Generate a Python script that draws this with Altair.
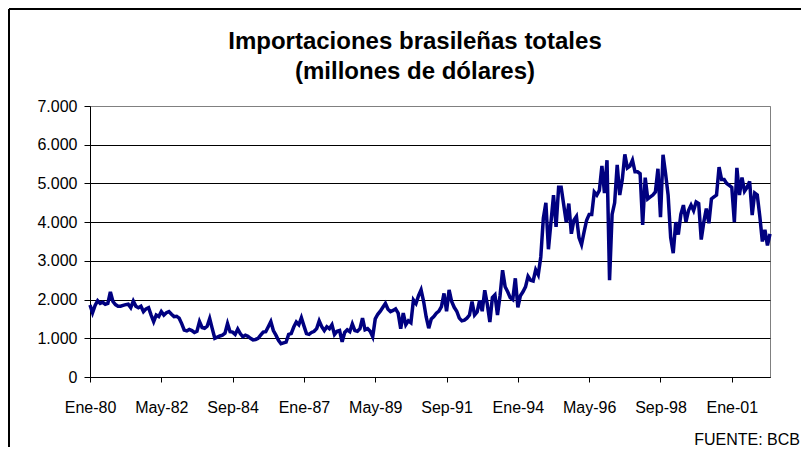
import altair as alt
import pandas as pd

# Monthly Brazilian imports (million US$), Jan 1980 - Apr 2002
IMP_1980 = [1860, 1660, 1850, 1970, 1900, 1930, 1880, 1900, 2200, 1950, 1870, 1830]
IMP_1981 = [1830, 1850, 1870, 1880, 1790, 1960, 1830, 1790, 1830, 1690, 1760, 1790]
IMP_1982 = [1600, 1430, 1600, 1560, 1690, 1600, 1660, 1690, 1620, 1560, 1570, 1520]
IMP_1983 = [1380, 1210, 1190, 1230, 1200, 1150, 1180, 1430, 1280, 1260, 1310, 1510]
IMP_1984 = [1250, 1000, 1030, 1060, 1080, 1130, 1380, 1170, 1160, 1100, 1240, 1120]
IMP_1985 = [1040, 1080, 1050, 1000, 960, 970, 1000, 1080, 1160, 1170, 1300, 1430]
IMP_1986 = [1200, 1080, 950, 860, 880, 900, 1100, 1120, 1290, 1420, 1350, 1530]
IMP_1987 = [1320, 1120, 1100, 1150, 1180, 1250, 1450, 1300, 1200, 1300, 1250, 1350]
IMP_1988 = [1100, 1180, 1200, 910, 1150, 1220, 1170, 1370, 1200, 1180, 1250, 1520]
IMP_1989 = [1220, 1250, 1180, 1040, 1500, 1620, 1700, 1800, 1900, 1750, 1690, 1720]
IMP_1990 = [1760, 1650, 1250, 1650, 1350, 1450, 1400, 1990, 1900, 2100, 2250, 1950]
IMP_1991 = [1550, 1260, 1500, 1560, 1650, 1700, 1820, 2160, 1700, 2250, 1950, 1800]
IMP_1992 = [1700, 1520, 1450, 1470, 1520, 1600, 1950, 1600, 1680, 1980, 1700, 2240]
IMP_1993 = [1880, 1420, 2050, 2120, 1600, 2100, 2760, 2330, 2200, 2050, 2000, 2550]
IMP_1994 = [1800, 2100, 2200, 2330, 2600, 2500, 2480, 2770, 2640, 3100, 4100, 4500]
IMP_1995 = [3300, 4000, 4700, 3880, 4900, 4900, 4450, 4000, 4480, 3700, 4050, 4150]
IMP_1996 = [3600, 3420, 3750, 4050, 4200, 4200, 4780, 4700, 4820, 5450, 4750, 5600]
IMP_1997 = [2500, 4200, 4500, 5480, 4700, 5100, 5750, 5400, 5450, 5600, 5300, 5300]
IMP_1998 = [5250, 3930, 5150, 4600, 4650, 4700, 4780, 5380, 4130, 5740, 5250, 4700]
IMP_1999 = [3600, 3200, 4000, 3680, 4200, 4440, 4010, 4300, 4440, 4300, 4520, 4480]
IMP_2000 = [3550, 4000, 4350, 3970, 4600, 4650, 4700, 5420, 5100, 5100, 5000, 4950]
IMP_2001 = [4900, 4000, 5400, 4700, 5150, 4800, 4900, 5050, 4180, 4750, 4700, 4150]
IMP_2002 = [3500, 3800, 3400, 3700]

SERIES = (IMP_1980 + IMP_1981 + IMP_1982 + IMP_1983 + IMP_1984 + IMP_1985 +
          IMP_1986 + IMP_1987 + IMP_1988 + IMP_1989 + IMP_1990 + IMP_1991 +
          IMP_1992 + IMP_1993 + IMP_1994 + IMP_1995 + IMP_1996 + IMP_1997 +
          IMP_1998 + IMP_1999 + IMP_2000 + IMP_2001 + IMP_2002)

TICK_POS = [0, 28, 56, 84, 112, 140, 168, 196, 224, 252]
TICK_LABELS = ["Ene-80", "May-82", "Sep-84", "Ene-87", "May-89",
               "Sep-91", "Ene-94", "May-96", "Sep-98", "Ene-01"]
Y_TICKS = [0, 1000, 2000, 3000, 4000, 5000, 6000, 7000]

TITLE_1 = "Importaciones brasileñas totales"
TITLE_2 = "(millones de dólares)"
SOURCE = "FUENTE: BCB"

FONT = "Liberation Sans"
W, H = 680, 271
PAD = {"left": 82, "top": 98, "right": 31, "bottom": 70}

df = pd.DataFrame({"mes": list(range(len(SERIES))), "valor": SERIES})

pos_js = "[" + ",".join(str(p) for p in TICK_POS) + "]"
lab_js = "[" + ",".join("'" + l + "'" for l in TICK_LABELS) + "]"
x_label_expr = f"{lab_js}[indexof({pos_js}, datum.value)]"
y_label_expr = "replace(format(datum.value, ',d'), ',', '.')"

line = alt.Chart(df).mark_line(color="#000080", strokeWidth=3.5).encode(
    x=alt.X("mes:Q",
            scale=alt.Scale(domain=[0, len(SERIES) - 1], nice=False, zero=False),
            axis=alt.Axis(values=TICK_POS, labelExpr=x_label_expr, title=None,
                          grid=False, tickSize=5, labelPadding=17,
                          domainColor="black", tickColor="black",
                          labelFont=FONT, labelFontSize=16, labelColor="black",
                          labelFlush=False)),
    y=alt.Y("valor:Q",
            scale=alt.Scale(domain=[0, 7000], nice=False),
            axis=alt.Axis(values=Y_TICKS, labelExpr=y_label_expr, title=None,
                          tickSize=6, labelPadding=7,
                          grid=True,
                          gridColor={"condition": {"test": "datum.value === 7000",
                                                   "value": "#808080"},
                                     "value": "black"},
                          gridWidth=1,
                          domainColor="black", tickColor="black",
                          labelFont=FONT, labelFontSize=16, labelColor="black")),
)

one = pd.DataFrame({"k": [0]})
frame_left = alt.Chart(one).mark_rule(color="black", strokeWidth=2).encode(
    x=alt.value(-PAD["left"] + 1), y=alt.value(-PAD["top"] + 1),
    y2=alt.value(H + PAD["bottom"] + 5))
frame_top = alt.Chart(one).mark_rule(color="black", strokeWidth=2).encode(
    x=alt.value(-PAD["left"] + 1), x2=alt.value(W + PAD["right"] + 5),
    y=alt.value(-PAD["top"] + 1))

title1 = alt.Chart(one).mark_text(
    align="center", baseline="alphabetic", font=FONT, fontSize=24,
    fontWeight="bold", color="black"
).encode(x=alt.value(325), y=alt.value(-57), text=alt.value(TITLE_1))
title2 = alt.Chart(one).mark_text(
    align="center", baseline="alphabetic", font=FONT, fontSize=24,
    fontWeight="bold", color="black"
).encode(x=alt.value(325), y=alt.value(-27), text=alt.value(TITLE_2))

source = alt.Chart(one).mark_text(
    align="right", baseline="alphabetic", font=FONT, fontSize=16, color="black"
).encode(x=alt.value(710), y=alt.value(339), text=alt.value(SOURCE))

chart = alt.layer(line, frame_left, frame_top, title1, title2, source).properties(
    width=W, height=H,
    padding=PAD,
    autosize=alt.AutoSizeParams(type="none"),
    background="white",
).configure_view(stroke="#808080", strokeWidth=1)

chart.save("out.html", embed_options={"renderer": "svg", "actions": False})
